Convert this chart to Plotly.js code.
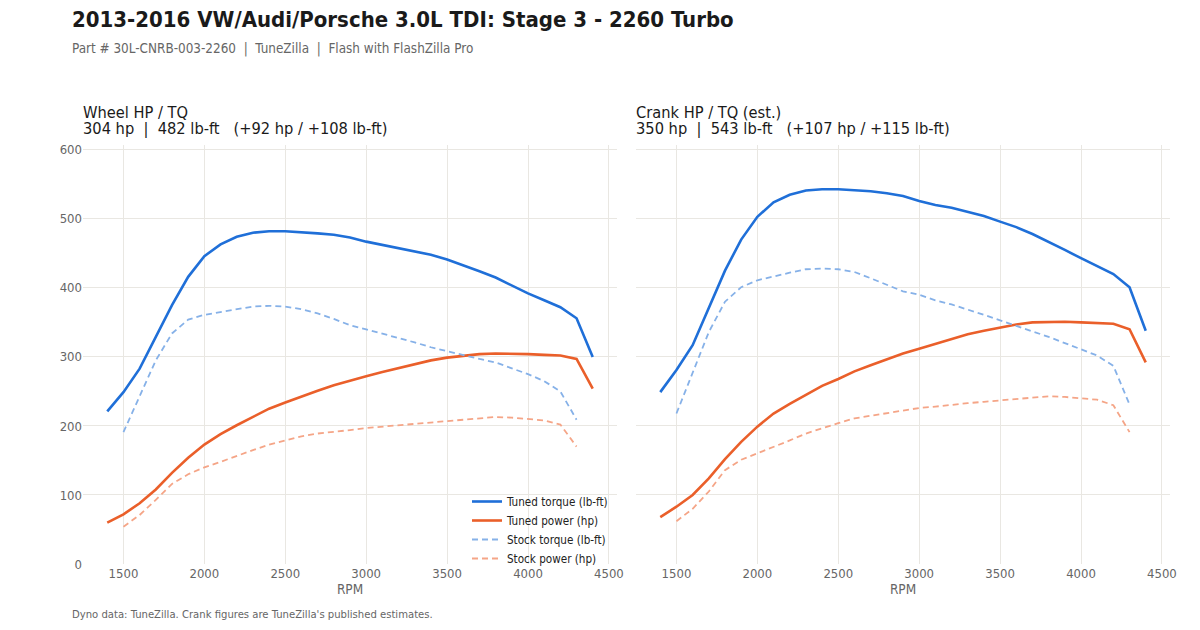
<!DOCTYPE html>
<html>
<head>
<meta charset="utf-8">
<script src="https://cdn.plot.ly/plotly-3.0.1.min.js"></script>
<style>
  body { margin: 0; background: #fff; }
  #chart { width: 1200px; height: 630px; }
</style>
</head>
<body>
<div id="chart"></div>
<script>
// rpm points
var rpm_tuned = [1400, 1500, 1600, 1700, 1800, 1900, 2000, 2100, 2200, 2300, 2400, 2500, 2600, 2700, 2800, 2900,
                 3000, 3100, 3200, 3300, 3400, 3500, 3600, 3700, 3800, 3900, 4000, 4100, 4200, 4300, 4400];
var rpm_stock = [1500, 1600, 1700, 1800, 1900, 2000, 2100, 2200, 2300, 2400, 2500, 2600, 2700, 2800, 2900,
                 3000, 3100, 3200, 3300, 3400, 3500, 3600, 3700, 3800, 3900, 4000, 4100, 4200, 4300];

// wheel figures
var wheel_tuned_tq = [221, 249, 283, 328, 375, 416, 446, 463, 474, 480, 482, 482, 481, 479, 477, 473,
                      467, 462, 458, 453, 448, 441, 433, 424, 415, 403, 392, 382, 372, 356, 300];
var wheel_tuned_hp = [60, 72, 88, 108, 132, 154, 173, 188, 201, 213, 225, 234, 243, 251, 259, 266,
                      272, 278, 284, 290, 295, 299, 302, 304, 305, 305, 304, 303, 302, 297, 254];
var wheel_stock_tq = [191, 243, 295, 334, 354, 361, 365, 369, 373, 374, 373, 369, 363, 355, 346,
                      340, 334, 327, 321, 314, 308, 303, 297, 292, 284, 275, 265, 250, 209];
var wheel_stock_hp = [54, 71, 93, 116, 130, 140, 148, 157, 165, 173, 179, 185, 189, 191, 194,
                      197, 199, 202, 204, 205, 207, 209, 212, 213, 212, 210, 208, 202, 170];

// crank figures (est.)
var crank_tuned_tq = [249, 281, 317, 370, 425, 470, 503, 524, 535, 541, 543, 543, 542, 540, 537, 533,
                      526, 520, 516, 510, 504, 496, 488, 478, 467, 455, 443, 431, 420, 401, 338];
var crank_tuned_hp = [68, 83, 100, 124, 152, 177, 199, 218, 232, 245, 258, 268, 279, 288, 297, 305,
                      312, 319, 326, 333, 338, 343, 347, 350, 351, 351, 350, 349, 348, 340, 292];
var crank_stock_tq = [218, 278, 336, 380, 401, 411, 417, 422, 427, 428, 427, 423, 414, 404, 395,
                      390, 382, 376, 369, 361, 353, 345, 338, 329, 320, 311, 302, 287, 231];
var crank_stock_hp = [62, 80, 105, 136, 151, 160, 169, 179, 189, 197, 204, 211, 215, 219, 222,
                      226, 228, 231, 233, 235, 237, 239, 242, 243, 242, 240, 238, 230, 191];

var series_names = ['Tuned torque (lb-ft)', 'Tuned power (hp)', 'Stock torque (lb-ft)', 'Stock power (hp)'];

var BLUE = '#1f6fd8';
var ORANGE = '#ea5f2a';
var LIGHT_BLUE = '#86b1e8';
var LIGHT_ORANGE = '#f5a587';
var FONT = 'DejaVu Sans Condensed, DejaVu Sans, sans-serif';

function make_traces(tuned_tq, tuned_hp, stock_tq, stock_hp, xa, ya, show) {
    return [
        { x: rpm_tuned, y: tuned_tq, xaxis: xa, yaxis: ya, type: 'scatter', mode: 'lines',
          name: series_names[0], showlegend: show, legendgroup: 'a',
          line: { color: BLUE, width: 2.6 } },
        { x: rpm_tuned, y: tuned_hp, xaxis: xa, yaxis: ya, type: 'scatter', mode: 'lines',
          name: series_names[1], showlegend: show, legendgroup: 'b',
          line: { color: ORANGE, width: 2.6 } },
        { x: rpm_stock, y: stock_tq, xaxis: xa, yaxis: ya, type: 'scatter', mode: 'lines',
          name: series_names[2], showlegend: show, legendgroup: 'c',
          line: { color: LIGHT_BLUE, width: 1.8, dash: '6px,4px' } },
        { x: rpm_stock, y: stock_hp, xaxis: xa, yaxis: ya, type: 'scatter', mode: 'lines',
          name: series_names[3], showlegend: show, legendgroup: 'd',
          line: { color: LIGHT_ORANGE, width: 1.8, dash: '6px,4px' } }
    ];
}

var data = make_traces(wheel_tuned_tq, wheel_tuned_hp, wheel_stock_tq, wheel_stock_hp, 'x', 'y', true)
    .concat(make_traces(crank_tuned_tq, crank_tuned_hp, crank_stock_tq, crank_stock_hp, 'x2', 'y2', false));

var grid = '#e9e7e2';

function xaxis_opts(domain, anchor) {
    return {
        domain: domain, anchor: anchor, range: [1250, 4550],
        tickmode: 'array', tickvals: [1500, 2000, 2500, 3000, 3500, 4000, 4500],
        showgrid: true, gridcolor: grid, gridwidth: 1, zeroline: false, showline: false,
        ticks: '', ticklen: 0,
        tickfont: { family: FONT, size: 13, color: '#666' },
        title: { text: 'RPM', font: { family: FONT, size: 13.5, color: '#666' }, standoff: 4 }
    };
}

function yaxis_opts(anchor, labels) {
    return {
        domain: [1 - 564 / 630, 1 - 145 / 630], anchor: anchor, range: [0, 607],
        tickmode: 'array', tickvals: [0, 100, 200, 300, 400, 500, 600],
        showticklabels: labels,
        showgrid: true, gridcolor: grid, gridwidth: 1, zeroline: false, showline: false,
        ticks: '', ticklen: 0,
        tickfont: { family: FONT, size: 13, color: '#666' }
    };
}

function label(text, px, py, size, color) {
    return { text: text, xref: 'paper', yref: 'paper', x: px / 1200, y: 1 - py / 630,
             xanchor: 'left', yanchor: 'middle', align: 'left', showarrow: false,
             font: { family: FONT, size: size, color: color } };
}

var layout = {
    width: 1200, height: 630,
    margin: { l: 0, r: 0, t: 0, b: 0 },
    paper_bgcolor: '#fff', plot_bgcolor: '#fff',
    font: { family: FONT, color: '#222' },
    xaxis: xaxis_opts([83 / 1200, 617 / 1200], 'y'),
    yaxis: yaxis_opts('x', true),
    xaxis2: xaxis_opts([636 / 1200, 1170 / 1200], 'y2'),
    yaxis2: yaxis_opts('x2', false),
    showlegend: true,
    legend: {
        x: 467 / 1200, y: 1 - 487 / 630, xanchor: 'left', yanchor: 'top',
        bgcolor: 'rgba(255,255,255,0)', borderwidth: 0,
        font: { family: FONT, size: 11.6, color: '#222' },
        tracegroupgap: 0, itemwidth: 30
    },
    annotations: [
        label('<b>2013-2016 VW/Audi/Porsche 3.0L TDI: Stage 3 - 2260 Turbo</b>', 70, 19, 22, '#1a1a1a'),
        label('Part # 30L-CNRB-003-2260  |  TuneZilla  |  Flash with FlashZilla Pro', 70, 49, 13.4, '#666'),
        label('Wheel HP / TQ', 81, 112, 16.3, '#1a1a1a'),
        label('304 hp  |  482 lb-ft   (+92 hp / +108 lb-ft)', 81, 129, 16.3, '#1a1a1a'),
        label('Crank HP / TQ (est.)', 634, 112, 16.3, '#1a1a1a'),
        label('350 hp  |  543 lb-ft   (+107 hp / +115 lb-ft)', 634, 129, 16.3, '#1a1a1a'),
        label("Dyno data: TuneZilla. Crank figures are TuneZilla's published estimates.", 70, 614, 11.2, '#666')
    ]
};

Plotly.newPlot('chart', data, layout, { displayModeBar: false, staticPlot: true });
</script>
</body>
</html>
